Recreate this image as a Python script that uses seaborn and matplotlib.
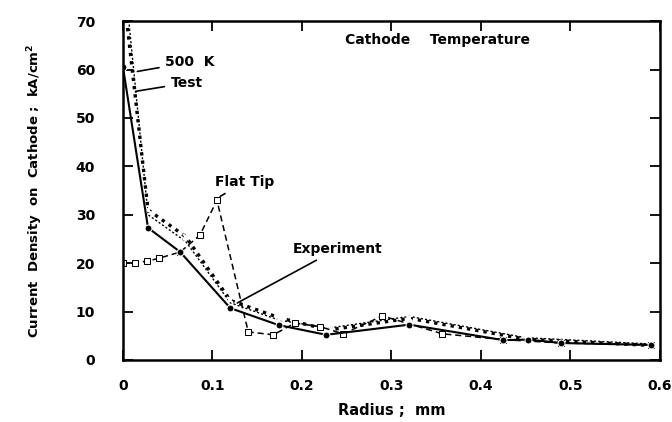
import numpy as np
import pandas as pd
import matplotlib
matplotlib.use("Agg")
import matplotlib.pyplot as plt
import seaborn as sns

# values
exp_r = [0.0, 0.028, 0.064, 0.12, 0.174, 0.227, 0.32, 0.425, 0.453, 0.49, 0.59]
exp_j = [60.5, 27.3, 22.3, 10.7, 7.2, 5.2, 7.3, 4.1, 4.2, 3.5, 3.1]

flat_r = [0.0, 0.013, 0.027, 0.04, 0.064, 0.086, 0.105, 0.14, 0.168, 0.192, 0.22, 0.246, 0.29, 0.357, 0.425, 0.49, 0.59]
flat_j = [20.0, 20.1, 20.4, 21.0, 22.3, 25.8, 33.0, 5.8, 5.2, 7.6, 6.9, 5.4, 9.1, 5.4, 4.2, 3.5, 3.1]

k500_r = [0.003, 0.028, 0.07, 0.12, 0.175, 0.23, 0.32, 0.45, 0.59]
k500_j = [72.0, 31.0, 25.5, 12.3, 8.7, 6.2, 8.6, 4.3, 3.0]

test_r = [0.006, 0.028, 0.07, 0.12, 0.175, 0.23, 0.32, 0.45, 0.59]
test_j = [71.0, 30.0, 24.5, 11.8, 8.2, 6.6, 9.0, 4.6, 3.3]

xticks = [0, 0.1, 0.2, 0.3, 0.4, 0.5, 0.6]
xticklabels = ["0", "0.1", "0.2", "0.3", "0.4", "0.5", "0.6"]
yticks = [0, 10, 20, 30, 40, 50, 60, 70]

df_exp = pd.DataFrame({"r": exp_r, "j": exp_j})
df_flat = pd.DataFrame({"r": flat_r, "j": flat_j})
df_500 = pd.DataFrame({"r": k500_r, "j": k500_j})
df_test = pd.DataFrame({"r": test_r, "j": test_j})

sns.set_style("ticks", {"axes.edgecolor": "black", "text.color": "black",
                        "axes.labelcolor": "black", "xtick.color": "black",
                        "ytick.color": "black"})
plt.rcParams["font.family"] = ["DejaVu Sans"]
plt.rcParams["font.weight"] = "bold"

fig = plt.figure(figsize=(6.72, 4.22), dpi=100)
ax = fig.add_axes([0.183, 0.147, 0.799, 0.803])

sns.lineplot(data=df_test, x="r", y="j", ax=ax, color="black", lw=1.0,
             linestyle=(0, (1.5, 1.5)), sort=False)
sns.lineplot(data=df_500, x="r", y="j", ax=ax, color="black", lw=2.4,
             linestyle=(0, (1, 1.5)), marker="x", markersize=5, mew=1.5, sort=False)
sns.lineplot(data=df_flat, x="r", y="j", ax=ax, color="black", lw=1.1,
             linestyle=(0, (4, 2.5)), marker="s", markersize=5,
             markerfacecolor="white", markeredgecolor="black", sort=False)
sns.lineplot(data=df_exp, x="r", y="j", ax=ax, color="black", lw=1.5,
             marker="o", markersize=5, sort=False)

ax.set_xlim(0, 0.6)
ax.set_ylim(0, 70)
ax.set_xticks(xticks)
ax.set_xticklabels(xticklabels)
ax.set_yticks(yticks)
ax.tick_params(axis="both", direction="in", length=7, width=1.3, top=True, right=True,
               labelsize=10, colors="black")
ax.tick_params(axis="x", pad=14)
ax.tick_params(axis="y", pad=20)
for s in ax.spines.values():
    s.set_linewidth(1.8)
    s.set_color("black")

ax.set_xlabel("Radius ;  mm", fontsize=10.5, fontweight="bold", labelpad=7,
              color="black")
ax.set_ylabel("Current  Density  on  Cathode ;  kA/cm$^{\\mathbf{2}}$",
              fontsize=9.5, fontweight="bold", labelpad=22, color="black")

# callouts
ax.text(0.248, 65.3, "Cathode    Temperature", fontsize=10, fontweight="bold")
ax.annotate("500  K", xy=(0.013, 59.5), xytext=(0.047, 61.5), fontsize=10,
            fontweight="bold", va="center",
            arrowprops=dict(arrowstyle="-", color="black", lw=1.2))
ax.annotate("Test", xy=(0.011, 55.4), xytext=(0.053, 57.2), fontsize=10,
            fontweight="bold", va="center",
            arrowprops=dict(arrowstyle="-", color="black", lw=1.2))
ax.annotate("Flat Tip", xy=(0.106, 33.5), xytext=(0.103, 36.8), fontsize=10,
            fontweight="bold", va="center",
            arrowprops=dict(arrowstyle="-", color="black", lw=1.2))
ax.annotate("Experiment", xy=(0.125, 11.5), xytext=(0.19, 23.0), fontsize=10,
            fontweight="bold", va="center",
            arrowprops=dict(arrowstyle="-", color="black", lw=1.2))

fig.savefig("out.png", dpi=100)
